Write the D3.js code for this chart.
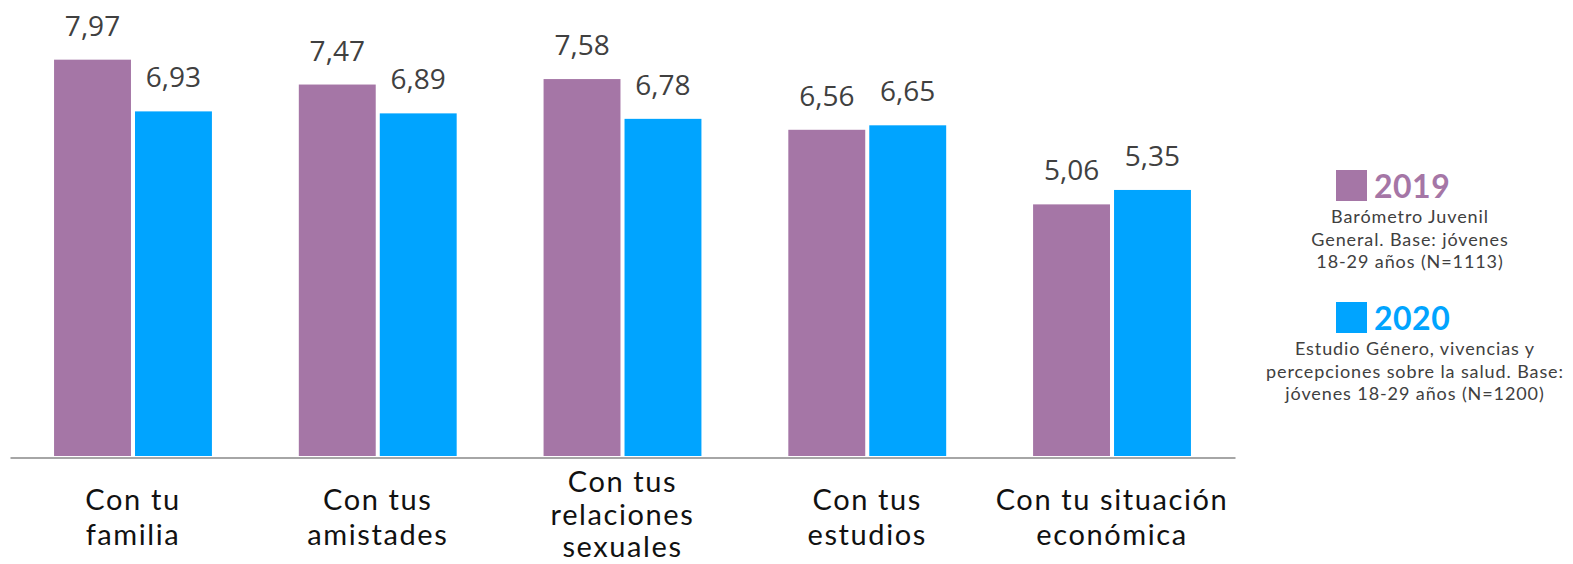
<!DOCTYPE html>
<html>
<head>
<meta charset="utf-8">
<script src="https://cdnjs.cloudflare.com/ajax/libs/d3/7.8.5/d3.min.js"></script>
<style>
body{margin:0;background:#fff;}
#root svg{display:block;}
</style>
</head>
<body>
<div id="root"></div>
<script>
// datos
var categories=[['Con tu','familia'],['Con tus','amistades'],['Con tus','relaciones','sexuales'],['Con tus','estudios'],['Con tu situación','económica']];
var series=['2019','2020'];
var values2019=[7.97,7.47,7.58,6.56,5.06];
var values2020=[6.93,6.89,6.78,6.65,5.35];
var colors=['#a576a6','#00a4ff'];
var legendNotes=[
  ['Barómetro Juvenil','General. Base: jóvenes','18-29 años (N=1113)'],
  ['Estudio Género, vivencias y','percepciones sobre la salud. Base:','jóvenes 18-29 años (N=1200)']
];

var W=1573,H=564;
var svg=d3.select('#root').append('svg').attr('width',W).attr('height',H);

var catKeys=categories.map(function(c){return c.join(' ')});

var x0=d3.scaleBand().domain(catKeys).range([10,1235]).paddingInner(0.355).paddingOuter(0.18);
var x1=d3.scaleBand().domain(series).range([0,x0.bandwidth()]).paddingInner(0.05);
var y=d3.scaleLinear().domain([0,9.17]).range([456,0]);

var rows=catKeys.map(function(k,i){return {key:k,vals:[values2019[i],values2020[i]]}});

var groups=svg.selectAll('.grp').data(rows).enter().append('g').attr('class','grp')
  .attr('transform',function(d){return 'translate('+x0(d.key)+',0)'});

var bars=groups.selectAll('g.b').data(function(d){return d.vals.map(function(v,j){return {s:series[j],v:v,j:j}})})
  .enter().append('g').attr('class','b');

bars.append('rect')
  .attr('x',function(d){return x1(d.s)})
  .attr('y',function(d){return y(d.v)})
  .attr('width',x1.bandwidth())
  .attr('height',function(d){return y(0)-y(d.v)})
  .attr('fill',function(d){return colors[d.j]});

bars.append('text')
  .attr('x',function(d){return x1(d.s)+x1.bandwidth()/2})
  .attr('y',function(d){return y(d.v)-24})
  .attr('text-anchor','middle')
  .attr('font-family','"Open Sans", sans-serif')
  .attr('font-size',28)
  .attr('fill','#404040')
  .text(function(d){return d3.format('.2f')(d.v).replace('.',',')});

// eje x
var xAxis=d3.axisBottom(x0).tickSize(0).tickSizeOuter(0);
var ax=svg.append('g').attr('class','xaxis').attr('transform','translate(0,457.5)').call(xAxis);
ax.select('.domain').attr('stroke','#a6a6a6').attr('stroke-width',2);
ax.selectAll('.tick text').remove();
ax.selectAll('.tick').each(function(d,i){
  var lines=categories[i];
  var t=d3.select(this).append('text')
    .attr('text-anchor','middle')
    .attr('font-family','Lato, sans-serif')
    .attr('font-size',29)
    .attr('letter-spacing',1.6)
    .attr('fill','#111');
  var lh=lines.length>2?32.5:35;
  var start=lines.length>2?34.5:70-lh/2;
  lines.forEach(function(l,k){
    t.append('tspan').attr('x',0).attr('y',start+k*lh).text(l);
  });
});

// leyenda
var legY=[170,302];
var leg=svg.selectAll('.leg').data(series).enter().append('g').attr('class','leg');
leg.append('rect')
  .attr('x',1336).attr('y',function(d,i){return legY[i]})
  .attr('width',31).attr('height',31)
  .attr('fill',function(d,i){return colors[i]});
leg.append('text')
  .attr('x',1374).attr('y',function(d,i){return legY[i]+28})
  .attr('font-family','Lato, sans-serif').attr('font-weight','bold')
  .attr('font-size',32)
  .attr('letter-spacing',0.5)
  .attr('fill',function(d,i){return colors[i]})
  .text(function(d){return d});
leg.each(function(d,i){
  var t=d3.select(this).append('text')
    .attr('text-anchor','middle')
    .attr('font-family','Lato, sans-serif')
    .attr('font-size',18)
    .attr('letter-spacing',0.9)
    .attr('fill','#404040');
  legendNotes[i].forEach(function(l,k){
    t.append('tspan').attr('x',i==0?1410:1415).attr('y',legY[i]+53+k*22.5).text(l);
  });
});
</script>
</body>
</html>
